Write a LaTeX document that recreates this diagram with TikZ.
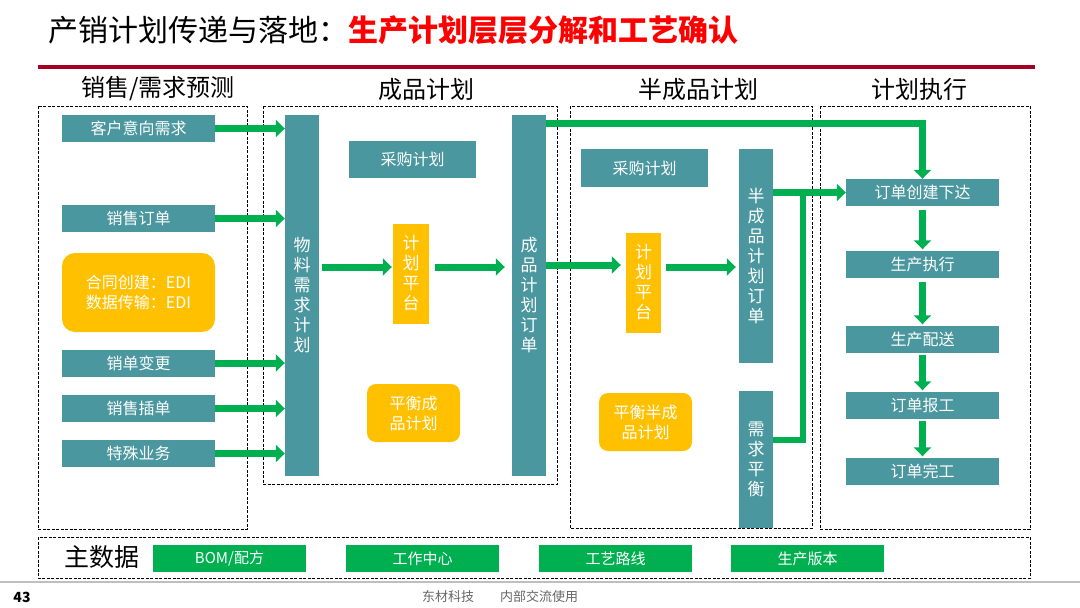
\documentclass[tikz,border=0pt]{standalone}
\usepackage{fontspec}
\setmainfont{Noto Sans CJK SC}
\usetikzlibrary{shapes,arrows.meta,positioning}
\definecolor{tealbox}{HTML}{4A979F}
\definecolor{ambox}{HTML}{FFC000}
\definecolor{flowgreen}{HTML}{00B050}
\definecolor{titlered}{HTML}{FF0000}
\definecolor{rulered}{HTML}{A50021}
\tikzstyle{process} = [rectangle, fill=tealbox, text=white, inner sep=0pt,
    minimum width=153pt, minimum height=27pt, font=\fontsize{16}{19}\selectfont]
\tikzstyle{bar} = [rectangle, fill=tealbox, text=white, inner sep=0pt, align=center,
    minimum width=34pt, font=\fontsize{17}{20}\selectfont]
\tikzstyle{platform} = [rectangle, fill=ambox, text=white, inner sep=0pt, align=center,
    minimum width=36pt, minimum height=100pt, font=\fontsize{17}{20}\selectfont]
\tikzstyle{balance} = [rectangle, rounded corners=9pt, fill=ambox, text=white, align=center,
    minimum width=93pt, minimum height=58pt, font=\fontsize{16}{20}\selectfont]
\tikzstyle{master} = [rectangle, fill=flowgreen, text=white, inner sep=0pt,
    minimum width=153pt, minimum height=27pt, font=\fontsize{15}{18}\selectfont]
\tikzstyle{line} = [draw=flowgreen, line width=7pt, -{Triangle[length=9pt,width=17pt]}]
\tikzstyle{wire} = [draw=flowgreen, line width=6.5pt]
\tikzstyle{group} = [draw, line width=0.8pt, dash pattern=on 3pt off 1.5pt]
\tikzstyle{header} = [font=\fontsize{24}{27}\selectfont]

\begin{document}
\begin{tikzpicture}[x=1pt,y=-1pt]
    \useasboundingbox (0,0) rectangle (1080,608);
    % Title and rules
    \node [anchor=west, inner sep=0pt, font=\fontsize{30}{33}\selectfont] (title) at (48,30) {产销计划传递与落地：};
    \node [right=0pt of title, inner sep=0pt, text=titlered, font=\fontsize{30}{33}\selectfont\bfseries] (subtitle) {生产计划层层分解和工艺确认};
    \draw [rulered, line width=3.5pt] (38,67) -- (1035,67);
    \draw [black!25, line width=2pt] (0,582) -- (1080,582);
    \node [font=\fontsize{14}{16}\selectfont\bfseries] (page) at (22,597) {43};
    \node [text=black!60, font=\fontsize{13}{15}\selectfont] (footer) at (500,597) {东材科技\quad\quad 内部交流使用};

    % Groups
    \draw [group] (38,106) rectangle (247,529);
    \draw [group] (263,106) rectangle (557,484);
    \draw [group] (570,106) rectangle (812,528);
    \draw [group] (820,106) rectangle (1030,529);
    \draw [group] (38,537) rectangle (1030,578);
    \node [header] (h1) at (158,89) {销售/需求预测};
    \node [header] (h2) at (426,89) {成品计划};
    \node [header] (h3) at (698,89) {半成品计划};
    \node [header] (h4) at (919,89) {计划执行};

    % Place nodes
    \node [process] (intent) at (138.5,128.5) {客户意向需求};
    \node [process] (salesorder) at (138.5,218.5) {销售订单};
    \node [balance, minimum width=153pt, minimum height=79pt, rounded corners=13pt] (edi) at (138.5,292.5) {合同创建：EDI\\数据传输：EDI};
    \node [process] (change) at (138.5,363) {销单变更};
    \node [process] (insert) at (138.5,408.5) {销售插单};
    \node [process] (special) at (138.5,453.5) {特殊业务};

    \node [bar, minimum height=361pt] (mrp) at (302,295.5) {物\\料\\需\\求\\计\\划};
    \node [process, minimum width=127pt, minimum height=37pt] (purchase1) at (412.5,159.5) {采购计划};
    \node [platform] (platform1) at (411,273.5) {计\\划\\平\\台};
    \node [balance] (balance1) at (413.5,413) {平衡成\\品计划};
    \node [bar, minimum height=361pt] (fgorder) at (529,295.5) {成\\品\\计\\划\\订\\单};

    \node [process, minimum width=127pt, minimum height=38pt] (purchase2) at (644.5,168) {采购计划};
    \node [platform, minimum width=35pt] (platform2) at (643.5,282.5) {计\\划\\平\\台};
    \node [balance] (balance2) at (645.5,422) {平衡半成\\品计划};
    \node [bar, minimum height=214pt] (sforder) at (756,256) {半\\成\\品\\计\\划\\订\\单};
    \node [bar, minimum height=137pt] (demand) at (756,459.5) {需\\求\\平\\衡};

    \node [process] (release) at (922.5,192.5) {订单创建下达};
    \node [process] (execute) at (922.5,264) {生产执行};
    \node [process] (deliver) at (922.5,339) {生产配送};
    \node [process] (report) at (922.5,405) {订单报工};
    \node [process] (finish) at (922.5,471) {订单完工};

    \node [inner sep=0pt, font=\fontsize{25}{28}\selectfont] (mdata) at (102,557.5) {主数据};
    \node [master] (bom) at (229.5,558.5) {BOM/配方};
    \node [master] (wcenter) at (422.5,558.5) {工作中心};
    \node [master] (routing) at (615.5,558.5) {工艺路线};
    \node [master] (version) at (807.5,558.5) {生产版本};

    % Draw edges
    \foreach \src in {intent,salesorder,change,insert,special}
        \path [line] (\src.east) -- (\src.east -| mrp.west);
    \path [line, shorten <=3pt, shorten >=1pt] ([yshift=6.5pt]platform1.west -| mrp.east) -- ([yshift=6.5pt]platform1.west);
    \path [line, shorten <=6pt, shorten >=7pt] ([yshift=6.5pt]platform1.east) -- ([yshift=6.5pt]platform1.east -| fgorder.west);
    \path [line, shorten >=5pt] ([yshift=17.5pt]platform2.west -| fgorder.east) -- ([yshift=17.5pt]platform2.west);
    \path [line, shorten <=5pt, shorten >=3pt] ([yshift=15.5pt]platform2.east) -- ([yshift=15.5pt]platform2.east -| sforder.west);
    \path [line] ([yshift=-9pt]fgorder.north east) -| (release.north);
    \path [line] (sforder.east |- release.west) -- (release.west);
    \coordinate (joint) at (803,192.5);
    \path [wire] ([yshift=19.5pt]demand.east) -| (joint);
    \path [line, shorten <=4pt, shorten >=1pt] (release) -- (execute);
    \path [line, shorten <=4pt, shorten >=1pt] (execute) -- (deliver);
    \path [line, shorten <=2pt, shorten >=1pt] (deliver) -- (report);
    \path [line, shorten <=2pt, shorten >=1pt] (report) -- (finish);

\end{tikzpicture}
\end{document}
